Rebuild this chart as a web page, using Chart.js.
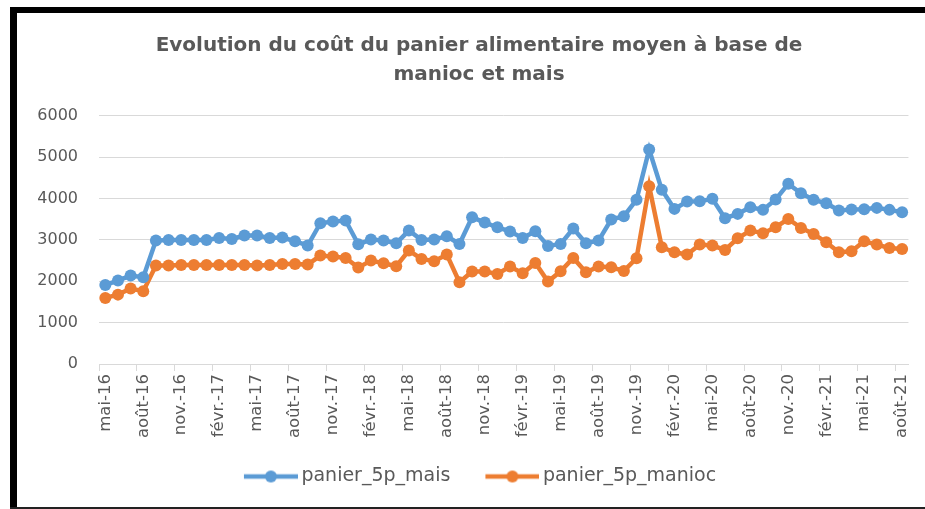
<!DOCTYPE html>
<html><head><meta charset="utf-8">
<script src="https://cdn.jsdelivr.net/npm/chart.js@4/dist/chart.umd.min.js"></script>
<style>
html,body{margin:0;padding:0;background:#fff;width:925px;height:509px;overflow:hidden}
#wrap{position:absolute;left:0;top:0;width:925px;height:509px}
.bar{position:absolute;background:#000;pointer-events:none}
</style></head><body>
<div id="wrap"><canvas id="c" width="925" height="509"></canvas></div>
<div class="bar" style="left:10px;top:7px;width:915px;height:6px"></div>
<div class="bar" style="left:10px;top:7px;width:7px;height:502px"></div>
<div class="bar" style="left:10px;top:507px;width:915px;height:2px;background:#222"></div>
<script>
const months = [
 'mai-16','juin-16','juil.-16','août-16','sept.-16','oct.-16','nov.-16','déc.-16',
 'janv.-17','févr.-17','mars-17','avr.-17','mai-17','juin-17','juil.-17','août-17','sept.-17','oct.-17','nov.-17','déc.-17',
 'janv.-18','févr.-18','mars-18','avr.-18','mai-18','juin-18','juil.-18','août-18','sept.-18','oct.-18','nov.-18','déc.-18',
 'janv.-19','févr.-19','mars-19','avr.-19','mai-19','juin-19','juil.-19','août-19','sept.-19','oct.-19','nov.-19','déc.-19',
 'janv.-20','févr.-20','mars-20','avr.-20','mai-20','juin-20','juil.-20','août-20','sept.-20','oct.-20','nov.-20','déc.-20',
 'janv.-21','févr.-21','mars-21','avr.-21','mai-21','juin-21','juil.-21','août-21'
];
const panierMais = [
 1910,2016,2137,2097,2984,3000,3000,3000,3000,3048,3024,3105,3105,3048,3056,2968,2863,3403,3444,3468,
 2895,3008,2984,2919,3226,3000,3008,3089,2903,3548,3419,3306,3202,3048,3210,2855,2903,3274,2919,2984,
 3492,3573,3968,5185,4210,3750,3927,3935,3992,3524,3629,3790,3726,3976,4355,4129,3968,3887,3710,3734,
 3742,3774,3726,3669
];
const panierManioc = [
 1597,1677,1823,1758,2379,2379,2395,2395,2395,2395,2395,2395,2379,2395,2419,2419,2403,2621,2597,2565,
 2330,2500,2435,2363,2742,2540,2484,2645,1976,2234,2234,2177,2355,2194,2444,1992,2242,2565,2218,2355,
 2339,2250,2556,4298,2823,2702,2645,2887,2863,2758,3040,3226,3161,3306,3508,3290,3145,2944,2702,2726,
 2968,2887,2806,2782
];
const yMin = 0, yMax = 6000, yStep = 1000;
const labelEvery = 3;
const seriesNames = ['panier_5p_mais','panier_5p_manioc'];
const seriesColors = ['#5B9BD5','#ED7D31'];
const textColor = '#595959';
const gridColor = '#D9D9D9';

function legendIcon(color){
  const c = document.createElement('canvas');
  c.width = 60; c.height = 14;
  const g = c.getContext('2d');
  g.strokeStyle = color; g.lineWidth = 4.5; g.lineCap = 'butt';
  g.beginPath(); g.moveTo(6,7); g.lineTo(60,7); g.stroke();
  g.fillStyle = color; g.beginPath(); g.arc(33,7,6,0,Math.PI*2); g.fill();
  return c;
}
const icons = seriesColors.map(legendIcon);

const ds = (name, data, color) => ({
  label: name, data: data, borderColor: color, backgroundColor: color,
  borderWidth: 4.5, pointRadius: 6, pointHoverRadius: 6, pointBorderWidth: 0,
  pointBackgroundColor: color, tension: 0, fill: false
});

const placeBoxes = {
  id: 'placeBoxes',
  afterLayout(chart){
    const t = chart.titleBlock; if (t) { t.left += 22; t.right += 22; }
    const l = chart.legend; if (l) { l.left += 23; l.right += 23; }
    const x = chart.scales.x; x.bottom = chart.height; x.height = x.bottom - x.top;
  }
};

new Chart(document.getElementById('c'), {
  type: 'line',
  data: { labels: months, datasets: [
    ds(seriesNames[0], panierMais, seriesColors[0]),
    ds(seriesNames[1], panierManioc, seriesColors[1])
  ]},
  plugins: [placeBoxes],
  options: {
    responsive: false, animation: false, devicePixelRatio: 1,
    layout: { padding: { left: 0, right: 11, top: 0, bottom: 13 } },
    plugins: {
      tooltip: { enabled: false },
      title: {
        display: true,
        text: ['Evolution du coût du panier alimentaire moyen à base de', 'manioc et mais'],
        color: textColor,
        font: { family: 'DejaVu Sans', size: 20, weight: 'bold', lineHeight: 1.42 },
        padding: { top: 32, bottom: 27 }
      },
      legend: {
        position: 'bottom',
        labels: {
          color: textColor, usePointStyle: true, pointStyleWidth: 48, padding: 35,
          font: { family: 'DejaVu Sans', size: 19 },
          generateLabels(chart){
            const items = Chart.defaults.plugins.legend.labels.generateLabels(chart);
            items.forEach((it,i)=>{ it.pointStyle = icons[i]; it.lineWidth = 0; });
            return items;
          }
        }
      }
    },
    scales: {
      x: {
        offset: true,
        grid: { display: true, offset: true, drawOnChartArea: false, drawTicks: true, tickLength: 7,
          color: ctx => (ctx.index % labelEvery === 0 ? gridColor : 'rgba(0,0,0,0)'),
          tickColor: ctx => (ctx.index % labelEvery === 0 ? gridColor : 'rgba(0,0,0,0)') },
        border: { display: true, color: gridColor, width: 1 },
        ticks: { autoSkip: false, maxRotation: 90, minRotation: 90, padding: 3, color: textColor,
          font: { family: 'DejaVu Sans', size: 16.5 },
          callback: function(v, i){ return i % labelEvery === 0 ? months[i] : ''; } },
        afterFit(scale){ scale.height = 68; }
      },
      y: {
        min: yMin, max: yMax,
        grid: { color: gridColor, drawTicks: false, lineWidth: 1 },
        border: { display: false },
        ticks: { stepSize: yStep, padding: 21, color: textColor, font: { family: 'DejaVu Sans', size: 16 },
          callback: v => String(v) },
        afterFit(scale){ scale.width = 99; }
      }
    }
  }
});
</script>
</body></html>
